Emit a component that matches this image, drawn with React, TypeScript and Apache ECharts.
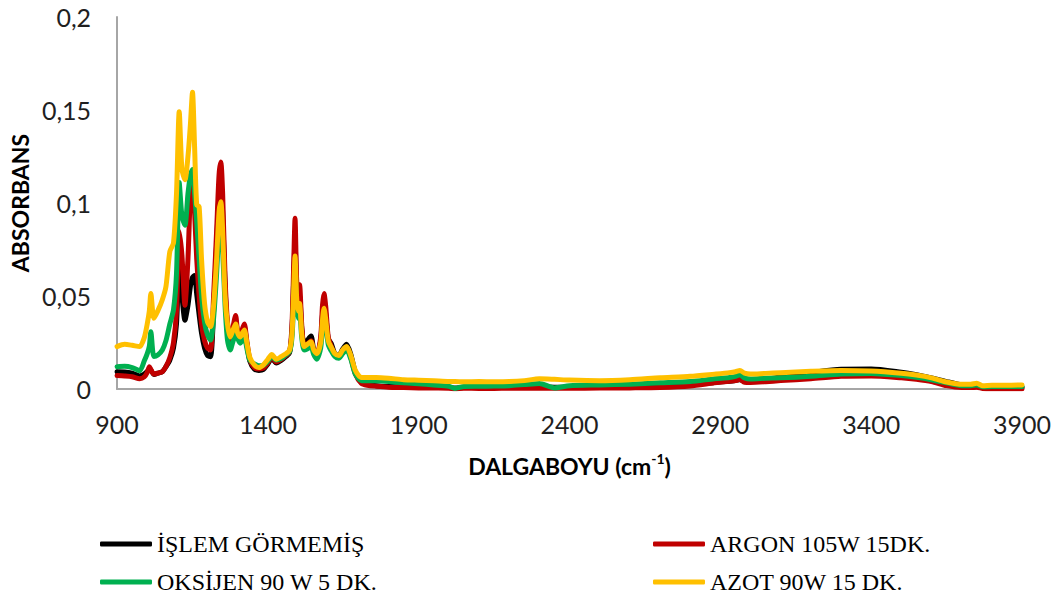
import React, { useEffect, useRef } from "react";
import * as echarts from "echarts";

// Wavenumber grid (cm-1) shared by every spectrum
const wavenumbers = [
  900, 925, 950, 975, 990, 1000, 1007, 1012, 1022, 1035,
  1050, 1062, 1075, 1087, 1097, 1106, 1115, 1125, 1135, 1143,
  1150, 1157, 1164, 1172, 1180, 1190, 1200, 1210, 1220, 1230,
  1238, 1244, 1250, 1258, 1266, 1275, 1285, 1293, 1300, 1308,
  1315, 1322, 1330, 1340, 1355, 1370, 1385, 1400, 1413, 1428,
  1445, 1460, 1472, 1480, 1486, 1490, 1495, 1500, 1505, 1512,
  1520, 1530, 1543, 1552, 1562, 1575, 1581, 1586, 1592, 1600,
  1610, 1622, 1635, 1648, 1661, 1675, 1690, 1710, 1730, 1760,
  1800, 1850, 1900, 1950, 2000, 2020, 2050, 2100, 2150, 2200,
  2250, 2300, 2350, 2400, 2500, 2600, 2700, 2800, 2880, 2930,
  2950, 2965, 2980, 3000, 3050, 3100, 3200, 3300, 3400, 3500,
  3550, 3600, 3650, 3700, 3730, 3750, 3770, 3800, 3850, 3900,
];

// Untreated sample
const islemGormemis = [
  0.0093, 0.0092, 0.0085, 0.0070, 0.0080, 0.0095, 0.0102, 0.0100, 0.0078, 0.0085,
  0.0093, 0.0120, 0.0156, 0.0220, 0.0350, 0.0650, 0.0500, 0.0370, 0.0450, 0.0550,
  0.0600, 0.0610, 0.0510, 0.0400, 0.0300, 0.0220, 0.0180, 0.0174, 0.0420, 0.0780,
  0.1050, 0.1100, 0.0950, 0.0550, 0.0330, 0.0250, 0.0320, 0.0370, 0.0285, 0.0255,
  0.0300, 0.0330, 0.0245, 0.0150, 0.0108, 0.0100, 0.0105, 0.0135, 0.0165, 0.0140,
  0.0155, 0.0175, 0.0195, 0.0320, 0.0620, 0.0800, 0.0550, 0.0460, 0.0500, 0.0330,
  0.0240, 0.0260, 0.0285, 0.0210, 0.0180, 0.0260, 0.0400, 0.0460, 0.0400, 0.0270,
  0.0245, 0.0190, 0.0180, 0.0215, 0.0240, 0.0185, 0.0090, 0.0035, 0.0025, 0.0018,
  0.0014, 0.0012, 0.0010, 0.0009, 0.0008, 0.0006, 0.0008, 0.0008, 0.0008, 0.0009,
  0.0010, 0.0011, 0.0010, 0.0010, 0.0011, 0.0013, 0.0016, 0.0022, 0.0035, 0.0042,
  0.0046, 0.0050, 0.0042, 0.0045, 0.0052, 0.0065, 0.0088, 0.0106, 0.0107, 0.0090,
  0.0077, 0.0060, 0.0040, 0.0022, 0.0018, 0.0016, 0.0012, 0.0010, 0.0010, 0.0010,
];

// Argon plasma, 105 W, 15 min
const argon = [
  0.0072, 0.0070, 0.0066, 0.0055, 0.0065, 0.0090, 0.0120, 0.0105, 0.0080, 0.0085,
  0.0093, 0.0120, 0.0170, 0.0250, 0.0420, 0.0850, 0.0720, 0.0450, 0.0700, 0.1050,
  0.1170, 0.0950, 0.0700, 0.0500, 0.0350, 0.0260, 0.0220, 0.0210, 0.0500, 0.0850,
  0.1150, 0.1220, 0.1050, 0.0600, 0.0360, 0.0270, 0.0340, 0.0395, 0.0300, 0.0270,
  0.0320, 0.0350, 0.0260, 0.0160, 0.0115, 0.0108, 0.0112, 0.0140, 0.0170, 0.0145,
  0.0160, 0.0180, 0.0200, 0.0350, 0.0700, 0.0918, 0.0600, 0.0500, 0.0560, 0.0350,
  0.0230, 0.0240, 0.0260, 0.0200, 0.0180, 0.0280, 0.0450, 0.0514, 0.0440, 0.0280,
  0.0230, 0.0185, 0.0175, 0.0205, 0.0225, 0.0170, 0.0080, 0.0030, 0.0020, 0.0015,
  0.0010, 0.0008, 0.0006, 0.0005, 0.0004, 0.0002, 0.0004, 0.0003, 0.0003, 0.0004,
  0.0004, 0.0005, 0.0004, 0.0004, 0.0005, 0.0006, 0.0008, 0.0016, 0.0033, 0.0042,
  0.0045, 0.0052, 0.0036, 0.0035, 0.0039, 0.0045, 0.0055, 0.0068, 0.0070, 0.0060,
  0.0052, 0.0040, 0.0018, 0.0008, 0.0008, 0.0009, 0.0003, 0.0002, 0.0002, 0.0002,
];

// Oxygen plasma, 90 W, 5 min
const oksijen = [
  0.0120, 0.0122, 0.0115, 0.0098, 0.0150, 0.0190, 0.0230, 0.0308, 0.0175, 0.0183,
  0.0210, 0.0260, 0.0350, 0.0425, 0.0620, 0.1110, 0.0930, 0.0880, 0.1050, 0.1150,
  0.1180, 0.1050, 0.0900, 0.0700, 0.0500, 0.0360, 0.0290, 0.0263, 0.0380, 0.0620,
  0.0870, 0.0930, 0.0750, 0.0450, 0.0263, 0.0210, 0.0260, 0.0300, 0.0270, 0.0246,
  0.0260, 0.0280, 0.0220, 0.0156, 0.0135, 0.0125, 0.0128, 0.0150, 0.0174, 0.0156,
  0.0165, 0.0185, 0.0200, 0.0280, 0.0500, 0.0660, 0.0460, 0.0380, 0.0420, 0.0280,
  0.0210, 0.0215, 0.0228, 0.0185, 0.0160, 0.0220, 0.0340, 0.0400, 0.0340, 0.0240,
  0.0205, 0.0175, 0.0165, 0.0190, 0.0210, 0.0160, 0.0080, 0.0045, 0.0045, 0.0044,
  0.0040, 0.0033, 0.0028, 0.0022, 0.0015, 0.0003, 0.0014, 0.0015, 0.0016, 0.0018,
  0.0024, 0.0030, 0.0006, 0.0018, 0.0022, 0.0026, 0.0033, 0.0040, 0.0055, 0.0062,
  0.0068, 0.0076, 0.0060, 0.0054, 0.0058, 0.0060, 0.0068, 0.0080, 0.0084, 0.0072,
  0.0063, 0.0050, 0.0033, 0.0018, 0.0018, 0.0022, 0.0012, 0.0013, 0.0013, 0.0013,
];

// Nitrogen plasma, 90 W, 15 min
const azot = [
  0.0228, 0.0240, 0.0235, 0.0228, 0.0275, 0.0350, 0.0420, 0.0514, 0.0380, 0.0420,
  0.0480, 0.0550, 0.0740, 0.0785, 0.1050, 0.1490, 0.1180, 0.1125, 0.1250, 0.1420,
  0.1595, 0.1300, 0.0990, 0.0980, 0.0700, 0.0460, 0.0360, 0.0335, 0.0450, 0.0700,
  0.0950, 0.1007, 0.0850, 0.0500, 0.0350, 0.0280, 0.0320, 0.0350, 0.0300, 0.0280,
  0.0300, 0.0317, 0.0250, 0.0170, 0.0130, 0.0115, 0.0130, 0.0160, 0.0185, 0.0160,
  0.0175, 0.0190, 0.0210, 0.0300, 0.0550, 0.0715, 0.0500, 0.0420, 0.0460, 0.0300,
  0.0228, 0.0240, 0.0254, 0.0210, 0.0190, 0.0250, 0.0370, 0.0434, 0.0370, 0.0260,
  0.0225, 0.0190, 0.0180, 0.0210, 0.0228, 0.0180, 0.0100, 0.0062, 0.0062, 0.0062,
  0.0058, 0.0050, 0.0047, 0.0044, 0.0040, 0.0040, 0.0039, 0.0040, 0.0039, 0.0040,
  0.0045, 0.0055, 0.0052, 0.0048, 0.0045, 0.0050, 0.0060, 0.0068, 0.0080, 0.0088,
  0.0093, 0.0100, 0.0085, 0.0080, 0.0084, 0.0087, 0.0095, 0.0100, 0.0097, 0.0085,
  0.0075, 0.0060, 0.0038, 0.0025, 0.0025, 0.0031, 0.0018, 0.0020, 0.0020, 0.0022,
];

const seriesNames = [
  "İŞLEM GÖRMEMİŞ",
  "ARGON 105W 15DK.",
  "OKSİJEN 90 W 5 DK.",
  "AZOT 90W 15 DK.",
];
const seriesValues = [islemGormemis, argon, oksijen, azot];
const seriesColors = ["#000000", "#C00000", "#00B050", "#FFC000"];

const xTicks = { min: 900, max: 3900, interval: 500 };
const yTicks = { min: 0, max: 0.2, interval: 0.05 };

const labelFont = "Lato, 'Open Sans', sans-serif";
const legendFont = "'Liberation Serif', 'Times New Roman', serif";

export default function App() {
  const ref = useRef<HTMLDivElement>(null);

  useEffect(() => {
    if (!ref.current) return;
    const chart = echarts.init(ref.current, undefined, { renderer: "svg" });

    const series = seriesNames.map((name, i) => ({
      name,
      type: "line",
      data: wavenumbers.map((w, k) => [w, seriesValues[i][k]]),
      showSymbol: false,
      smooth: 0.25,
      color: seriesColors[i],
      lineStyle: { width: 5, color: seriesColors[i], cap: "round", join: "round" },
      z: 2 + i,
    }));

    const legendCommon = {
      orient: "vertical",
      icon: "roundRect",
      itemWidth: 52,
      itemHeight: 5,
      itemGap: 10,
      height: 68,
      padding: 0,
      textStyle: { fontFamily: legendFont, fontSize: 24, lineHeight: 28, color: "#000" },
      selectedMode: false,
    };

    chart.setOption({
      animation: false,
      backgroundColor: "#ffffff",
      grid: { left: 117, right: 35, top: 17, bottom: 210, containLabel: false },
      xAxis: {
        type: "value",
        min: xTicks.min,
        max: xTicks.max,
        interval: xTicks.interval,
        name: "{t|DALGABOYU (cm}{s|-1}{t|)}",
        nameLocation: "middle",
        nameGap: 62,
        nameTextStyle: {
          rich: {
            t: { fontFamily: labelFont, fontSize: 23, fontWeight: "bold", color: "#000", lineHeight: 30 },
            s: { fontFamily: labelFont, fontSize: 14, fontWeight: "bold", color: "#000", verticalAlign: "top" },
          },
        },
        axisLine: { show: true, lineStyle: { color: "#a6a6a6", width: 2 } },
        axisTick: { show: false },
        splitLine: { show: false },
        axisLabel: {
          fontFamily: labelFont,
          fontSize: 25,
          color: "#1f1f1f",
          margin: 22,
          formatter: (v: number) => String(v),
        },
      },
      yAxis: {
        type: "value",
        min: yTicks.min,
        max: yTicks.max,
        interval: yTicks.interval,
        name: "ABSORBANS",
        nameLocation: "middle",
        nameRotate: 90,
        nameGap: 84,
        nameTextStyle: { fontFamily: labelFont, fontSize: 23, fontWeight: "bold", color: "#000" },
        axisLine: { show: true, lineStyle: { color: "#a6a6a6", width: 2 } },
        axisTick: { show: false },
        splitLine: { show: false },
        axisLabel: {
          fontFamily: labelFont,
          fontSize: 25,
          color: "#1f1f1f",
          margin: 26,
          formatter: (v: number) => String(Number(v.toFixed(2))).replace(".", ","),
        },
      },
      legend: [
        { ...legendCommon, data: [seriesNames[0], seriesNames[2]], left: 100, top: 530 },
        { ...legendCommon, data: [seriesNames[1], seriesNames[3]], left: 653, top: 530 },
      ],
      series,
    });

    return () => chart.dispose();
  }, []);

  return (
    <div
      ref={ref}
      style={{ position: "fixed", left: 0, top: 0, width: 1057, height: 599, background: "#fff" }}
    />
  );
}
